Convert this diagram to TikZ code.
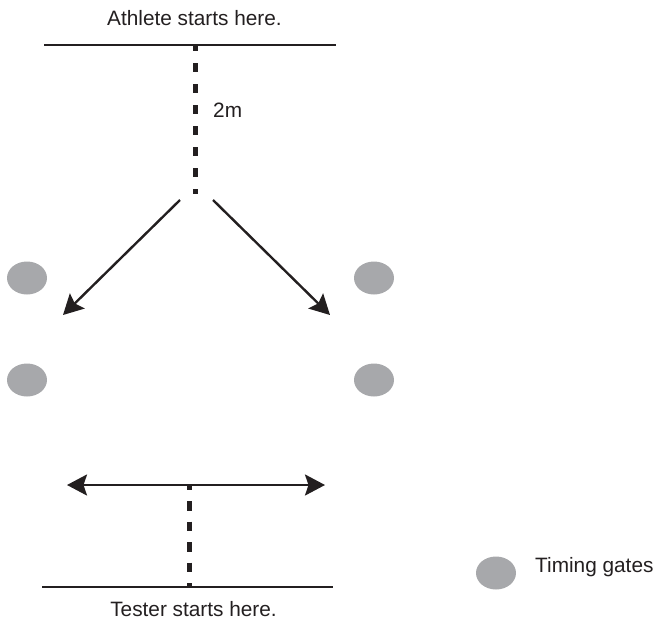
\documentclass[tikz,border=0pt]{standalone}
\usepackage{fontspec}
\setmainfont{Liberation Sans}
\usetikzlibrary{arrows.meta,shapes.geometric}
\definecolor{gate}{HTML}{A7A8AB}
\definecolor{ink}{HTML}{231F20}
\begin{document}
\begin{tikzpicture}[x=1pt,y=-1pt,
  lbl/.style={text=ink,font=\fontsize{20.8}{24}\selectfont,inner sep=0pt},
  gatenode/.style={ellipse,fill=gate,minimum width=40pt,minimum height=33pt,inner sep=0pt},
  solidline/.style={draw=ink,line width=2.2pt},
  dashline/.style={draw=ink,line width=4.6pt},
  tip/.style={Stealth[length=20pt,width=21pt,inset=3.5pt]},
  arr/.style={draw=ink,line width=2.4pt,-{Stealth[length=20pt,width=21pt,inset=3.5pt]}},
  darr/.style={draw=ink,line width=2.4pt,{Stealth[length=20pt,width=21pt,inset=3.5pt]}-{Stealth[length=20pt,width=21pt,inset=3.5pt]}}]
\useasboundingbox (0,0) rectangle (657,622);
% top
\node[lbl] (title) at (194.5,18) {Athlete starts here.};
\coordinate (tl) at (44,45);
\coordinate (tr) at (336,45);
\draw[solidline] (tl) -- (tr);
\coordinate (ts) at (195.5,45);
\coordinate (te) at (195.5,194);
\draw[dashline,dash pattern=on 9pt off 12pt,dash phase=3pt] (ts) -- (te);
\node[lbl,anchor=west] (twom) at (213,110) {2m};
% arrows
\coordinate (la) at (180,200);
\coordinate (lb) at (63,315);
\coordinate (ra) at (213,200);
\coordinate (rb) at (330,315);
\draw[arr] (la) -- (lb);
\draw[arr] (ra) -- (rb);
% gates
\node[gatenode] (g1) at (27,278) {};
\node[gatenode] (g2) at (27,380) {};
\node[gatenode] (g3) at (374,278) {};
\node[gatenode] (g4) at (374,380) {};
% bottom
\coordinate (al) at (67,485);
\coordinate (ar) at (325,485);
\draw[darr] (al) -- (ar);
\coordinate (bs) at (189.5,485);
\coordinate (be) at (189.5,587);
\draw[dashline,dash pattern=on 9.5pt off 11pt,dash phase=4.5pt] (bs) -- (be);
\coordinate (bl) at (42,587);
\coordinate (br) at (333,587);
\draw[solidline] (bl) -- (br);
\node[lbl] (tester) at (193.5,609.5) {Tester starts here.};
% legend
\node[gatenode] (lg) at (496,573) {};
\node[lbl,anchor=west] (lgt) at (535,567.5) {Timing gates};
\end{tikzpicture}
\end{document}
